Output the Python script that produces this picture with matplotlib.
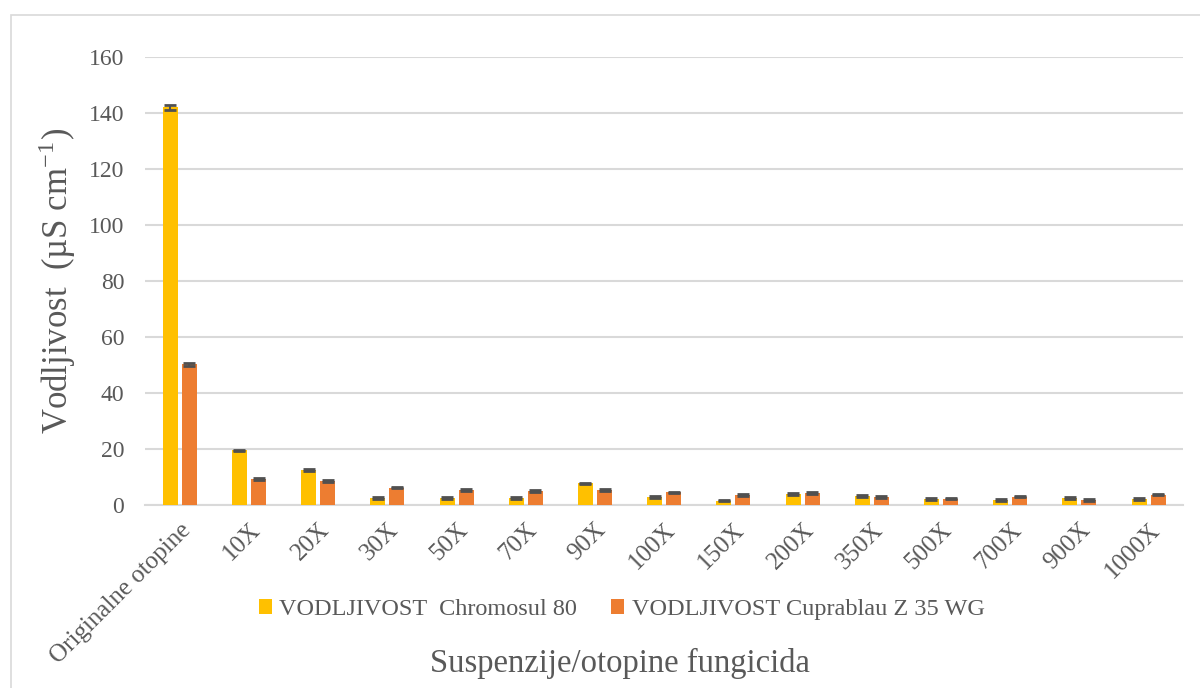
import numpy as np
import matplotlib.pyplot as plt
from matplotlib.patches import Rectangle

plt.rcParams['font.family'] = ['Liberation Serif', 'DejaVu Serif']
plt.rcParams['mathtext.fontset'] = 'stix'

categories = ["Originalne otopine", "10X", "20X", "30X", "50X", "70X", "90X", "100X",
              "150X", "200X", "350X", "500X", "700X", "900X", "1000X"]
chromosul = [142.0, 19.5, 12.4, 2.6, 2.6, 2.6, 7.7, 2.9, 1.6, 3.9, 3.2, 2.2, 1.7, 2.6, 2.2]
chromosul_err = [1.0, 0.3, 0.3, 0.3, 0.3, 0.3, 0.3, 0.3, 0.3, 0.4, 0.3, 0.3, 0.4, 0.3, 0.3]
cuprablau = [50.2, 9.4, 8.6, 6.2, 5.4, 4.9, 5.4, 4.5, 3.5, 4.3, 2.9, 2.3, 3.0, 1.9, 3.7]
cuprablau_err = [0.5, 0.3, 0.3, 0.3, 0.3, 0.3, 0.3, 0.3, 0.3, 0.3, 0.3, 0.3, 0.3, 0.4, 0.3]
labels = ["VODLJIVOST  Chromosul 80", "VODLJIVOST Cuprablau Z 35 WG"]

yellow = "#FFC000"
orange = "#ED7D31"
text_col = "#595959"

fig = plt.figure(figsize=(12, 6.88), dpi=100)
ax = fig.add_axes([0.121, 0.266, 0.865, 0.651])

x = np.arange(len(categories))
w = 0.215
gap = 0.06
err_kw = dict(ecolor="#505050", elinewidth=1.5, capsize=4, capthick=2)
ax.bar(x - (w + gap) / 2, chromosul, w, yerr=chromosul_err, color=yellow,
       label=labels[0], error_kw=err_kw, zorder=3)
ax.bar(x + (w + gap) / 2, cuprablau, w, yerr=cuprablau_err, color=orange,
       label=labels[1], error_kw=err_kw, zorder=3)

ax.set_xlim(-0.5, len(categories) - 0.5)
ax.set_ylim(0, 160)
ax.set_yticks(range(0, 161, 20))
ax.yaxis.grid(True, color="#D9D9D9", linewidth=1.5, zorder=0)
ax.set_axisbelow(True)
for s in ["top", "right", "left"]:
    ax.spines[s].set_visible(False)
ax.spines["bottom"].set_color("#D9D9D9")
ax.spines["bottom"].set_linewidth(1.5)
ax.tick_params(axis="both", length=0, colors=text_col)
ax.tick_params(axis="y", pad=15, labelsize=17)
ax.tick_params(axis="x", pad=10, labelsize=18)

ax.set_xticks(x)
ax.set_xticklabels(categories, rotation=45, ha="right", rotation_mode="anchor")

ax.set_ylabel("Vodljivost  (\u00b5S cm$^{\\mathregular{-1}}$)", fontsize=25, color=text_col,
              labelpad=8)
fig.text(0.517, 0.036, "Suspenzije/otopine fungicida", fontsize=23.5, color=text_col,
         ha="center", va="center")

leg = fig.legend(loc="center", bbox_to_anchor=(0.518, 0.114), ncol=2, frameon=False,
                 fontsize=17.5, handlelength=0.55, handleheight=0.55, handletextpad=0.3,
                 columnspacing=1.4)
for t in leg.get_texts():
    t.set_color(text_col)

fig.patches.append(Rectangle((0.009, -0.01), 1.1, 0.988, transform=fig.transFigure,
                             fill=False, edgecolor="#D9D9D9", linewidth=1.2))

fig.savefig("out.png", dpi=100)
